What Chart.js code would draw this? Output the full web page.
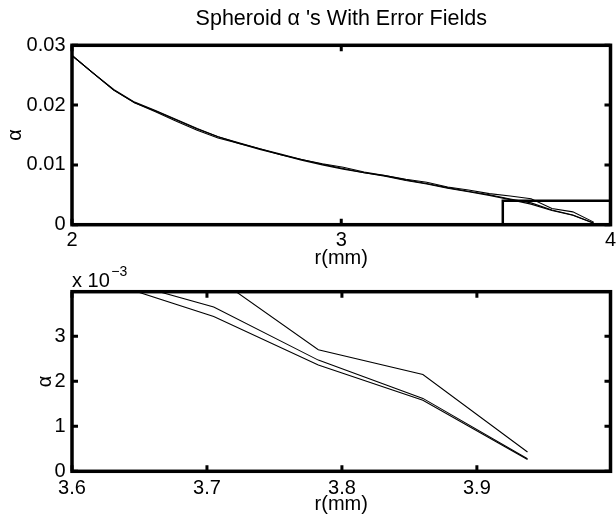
<!DOCTYPE html>
<html><head><meta charset="utf-8">
<script src="https://cdn.jsdelivr.net/npm/chart.js@4"></script>
<style>
html,body{margin:0;padding:0;background:#fff;}
#wrap{position:relative;width:616px;height:523px;background:#fff;}
canvas{position:absolute;left:0;top:0;}
</style></head><body>
<div id="wrap"><canvas id="c1" width="616" height="523"></canvas><canvas id="c2" width="616" height="523"></canvas></div>
<script>
// ---- data ----
const rValues = [2.0000, 2.0775, 2.1550, 2.2325, 2.3100, 2.3875, 2.4650, 2.5425, 2.6200, 2.6975,
                 2.7750, 2.8525, 2.9300, 3.0075, 3.0850, 3.1625, 3.2400, 3.3175, 3.3950, 3.4725,
                 3.5500, 3.6275, 3.7050, 3.7825, 3.8600, 3.9375];
const alphaA = [0.0283, 0.0254, 0.0225, 0.0204, 0.0190, 0.0175, 0.0160, 0.0147, 0.0137, 0.0127,
                0.0118, 0.0109, 0.0102, 0.0096, 0.0088, 0.0082, 0.0076, 0.0071, 0.0063, 0.0058,
                0.0052, 0.0048, 0.00434, 0.00270, 0.00215, 0.00043];
const alphaB = [0.0283, 0.0254, 0.0226, 0.0205, 0.0191, 0.0176, 0.0161, 0.0147, 0.0136, 0.0127,
                0.0117, 0.0109, 0.0101, 0.0094, 0.0087, 0.0082, 0.0075, 0.0069, 0.0062, 0.0056,
                0.0050, 0.00430, 0.00365, 0.00247, 0.00162, 0.00028];
const alphaC = [0.0283, 0.0254, 0.0225, 0.0204, 0.0189, 0.0173, 0.0158, 0.0145, 0.0136, 0.0126,
                0.0117, 0.0108, 0.0100, 0.0093, 0.0087, 0.0081, 0.0074, 0.0068, 0.0061, 0.0055,
                0.0049, 0.00419, 0.00344, 0.00236, 0.00158, 0.00026];
// zoom box drawn in the upper panel
const boxR     = [3.6, 3.6, 4.0, 4.0];
const boxAlpha = [0, 0.004, 0.004, 0];

const titleText = "Spheroid \u03b1 's With Error Fields";
const xTicksTop = [2, 3, 4];
const xTickLabelsTop = ['2', '3', '4'];
const yTicksTop = [0, 0.01, 0.02, 0.03];
const yTickLabelsTop = ['0', '0.01', '0.02', '0.03'];
const xTicksBottom = [3.6, 3.7, 3.8, 3.9];
const xTickLabelsBottom = ['3.6', '3.7', '3.8', '3.9'];
const yTicksBottom = [0, 0.001, 0.002, 0.003];
const yTickLabelsBottom = ['0', '1', '2', '3'];
const expBase = 'x 10';
const expPower = '\u22123';
const xLabel = 'r(mm)';
const yLabel = '\u03b1';

// ---- styling ----
const FONT = "'Liberation Sans', Arial, Helvetica, sans-serif";

function lineDS(xs, ys, w) {
  return { data: xs.map((x, i) => ({ x: x, y: ys[i] })), borderColor: '#000', backgroundColor: '#000',
           borderWidth: w, pointRadius: 0, showLine: true, fill: false, tension: 0 };
}

const framePlugin = {
  id: 'frame',
  afterDraw(chart) {
    const { ctx, chartArea: a, scales: { x, y } } = chart;
    ctx.save();
    ctx.strokeStyle = '#000';
    ctx.lineCap = 'butt';
    ctx.lineWidth = 3;
    ctx.beginPath();
    const L = 6;
    x.ticks.forEach(t => {
      const px = x.getPixelForValue(t.value);
      ctx.moveTo(px, a.bottom); ctx.lineTo(px, a.bottom - L);
      ctx.moveTo(px, a.top); ctx.lineTo(px, a.top + L);
    });
    y.ticks.forEach(t => {
      const py = y.getPixelForValue(t.value);
      ctx.moveTo(a.left, py); ctx.lineTo(a.left + L, py);
      ctx.moveTo(a.right, py); ctx.lineTo(a.right - L, py);
    });
    ctx.stroke();
    ctx.lineWidth = 3.5;
    ctx.strokeRect(a.left, a.top, a.right - a.left, a.bottom - a.top);
    ctx.restore();
  }
};

const expPlugin = {
  id: 'exp',
  afterDraw(chart) {
    const { ctx, chartArea: a } = chart;
    ctx.save();
    ctx.fillStyle = '#000';
    ctx.textAlign = 'left';
    ctx.textBaseline = 'alphabetic';
    ctx.font = '20px ' + FONT;
    ctx.fillText(expBase, a.left, a.top - 5);
    const w = ctx.measureText(expBase).width;
    ctx.font = '14px ' + FONT;
    ctx.fillText(expPower, a.left + w + 1.5, a.top - 16);
    ctx.restore();
  }
};

function xScale(min, max, ticks, labels, height, titlePadBottom, tickPad) {
  return {
    type: 'linear', min: min, max: max,
    grid: { display: false, drawTicks: false }, border: { display: false },
    afterBuildTicks: s => { s.ticks = ticks.map(v => ({ value: v })); },
    afterFit: s => { s.height = height; s.paddingLeft = 0; s.paddingRight = 0; },
    ticks: { autoSkip: false, maxRotation: 0, minRotation: 0, padding: tickPad, color: '#000',
             font: { family: FONT, size: 20 }, callback: (v, i) => labels[i] },
    title: { display: true, text: xLabel, color: '#000', font: { family: FONT, size: 20 },
             padding: { top: 0, bottom: titlePadBottom } }
  };
}
function yScale(min, max, ticks, labels, titlePadTop) {
  return {
    type: 'linear', min: min, max: max,
    grid: { display: false, drawTicks: false }, border: { display: false },
    afterBuildTicks: s => { s.ticks = ticks.map(v => ({ value: v })); },
    afterFit: s => { s.width = 72; s.paddingTop = 0; s.paddingBottom = 0; },
    ticks: { autoSkip: false, padding: 6.5, color: '#000',
             font: { family: FONT, size: 20 }, callback: (v, i) => labels[i] },
    title: { display: true, text: yLabel, color: '#000', font: { family: FONT, size: 20 },
             padding: { top: titlePadTop, bottom: 0 } }
  };
}

new Chart(document.getElementById('c1'), {
  type: 'scatter',
  data: { datasets: [lineDS(rValues, alphaA, 1.1), lineDS(rValues, alphaB, 1.1), lineDS(rValues, alphaC, 1.1),
                     lineDS(boxR, boxAlpha, 2.5)] },
  options: {
    responsive: false, animation: false, devicePixelRatio: 1,
    layout: { padding: { left: 0, right: 5.5, top: 0, bottom: 248.3 } },
    plugins: {
      legend: { display: false }, tooltip: { enabled: false },
      title: { display: true, fullSize: false, text: titleText, color: '#000',
               font: { family: FONT, size: 21.5, weight: 'normal' }, padding: { top: 6, bottom: 13.5 } }
    },
    scales: {
      x: xScale(2, 4, xTicksTop, xTickLabelsTop, 50, 4.7, 3.5),
      y: yScale(0, 0.03, yTicksTop, yTickLabelsTop, 3)
    }
  },
  plugins: [framePlugin]
});

new Chart(document.getElementById('c2'), {
  type: 'scatter',
  data: { datasets: [lineDS(rValues, alphaA, 1.1), lineDS(rValues, alphaB, 1.1), lineDS(rValues, alphaC, 1.1)] },
  options: {
    responsive: false, animation: false, devicePixelRatio: 1,
    layout: { padding: { left: 0, right: 5.5, top: 291.7, bottom: 0 } },
    plugins: { legend: { display: false }, tooltip: { enabled: false }, title: { display: false } },
    scales: {
      x: xScale(3.6, 3.999, xTicksBottom, xTickLabelsBottom, 51.7, 7, 5),
      y: yScale(0, 0.00399, yTicksBottom, yTickLabelsBottom, 33)
    }
  },
  plugins: [framePlugin, expPlugin]
});
</script></body></html>
